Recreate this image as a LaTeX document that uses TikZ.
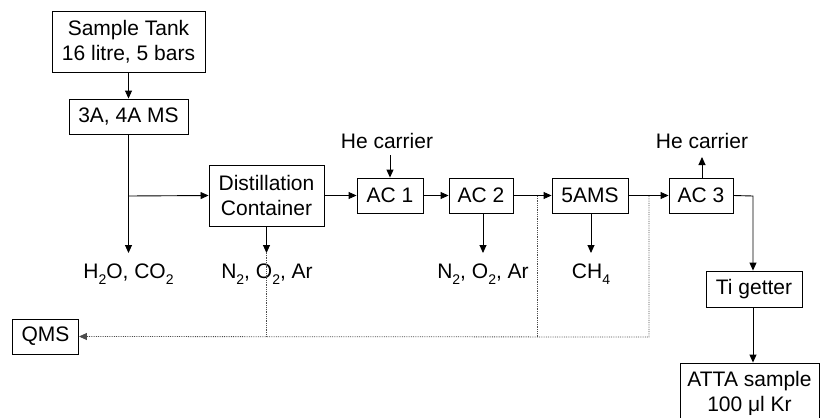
\documentclass[tikz,border=0pt]{standalone}
\usepackage{fontspec}
\setmainfont{Liberation Sans}
\usetikzlibrary{arrows.meta}
\newcommand{\sbs}[1]{\raisebox{-0.28em}{\fontsize{14}{14}\selectfont #1}}
\begin{document}
\begin{tikzpicture}[x=1pt,y=-1pt,
  every node/.style={font=\fontsize{21}{24.5}\selectfont},
  box/.style={draw, line width=0.9pt, inner sep=0pt, align=center},
  lbl/.style={inner sep=0pt, align=center},
  arr/.style={line width=0.9pt, -{Triangle[length=8pt,width=7pt]}},
  ln/.style={line width=0.9pt},
  dots/.style={line width=0.8pt, densely dotted, black!70},
  darr/.style={dots, -{Triangle[length=8pt,width=7pt]}}]
\useasboundingbox (0,0) rectangle (823,418);
% boxes
\node[box, minimum width=153pt, minimum height=61pt] (st) at (128.5,41.5) {Sample Tank\\16 litre, 5 bars};
\node[box, minimum width=119pt, minimum height=35pt] (ms) at (128.5,116.5) {3A, 4A MS};
\node[box, minimum width=115pt, minimum height=61pt] (dc) at (266.5,195.5) {Distillation\\Container};
\node[box, minimum width=66pt, minimum height=35pt] (ac1) at (390,195.5) {AC 1};
\node[box, minimum width=64pt, minimum height=35pt] (ac2) at (481,195.5) {AC 2};
\node[box, minimum width=76pt, minimum height=35pt] (fa) at (590,195.5) {5AMS};
\node[box, minimum width=64pt, minimum height=35pt] (ac3) at (701,195.5) {AC 3};
\node[box, minimum width=96pt, minimum height=36pt] (tig) at (754,289) {Ti getter};
\node[box, minimum width=139pt, minimum height=61pt] (atta) at (749.5,393.5) {ATTA sample\\100 μl Kr};
\node[box, minimum width=66pt, minimum height=35pt] (qms) at (45.5,336.5) {QMS};
% labels
\node[lbl] (lh2o) at (128.5,274) {H\sbs{2}O, CO\sbs{2}};
\node[lbl] (ln1) at (267,274) {N\sbs{2}, O\sbs{2}, Ar};
\node[lbl] (ln2) at (483,274) {N\sbs{2}, O\sbs{2}, Ar};
\node[lbl] (lch) at (591,274) {CH\sbs{4}};
\node[lbl] (he1) at (387,141) {He carrier};
\node[lbl] (he2) at (702,141) {He carrier};
% coordinates
\coordinate (t1) at (128.5,253);
\coordinate (br) at (128.5,196);
\coordinate (t2) at (266.5,253);
\coordinate (t3) at (483,253);
\coordinate (t4) at (591,253);
\coordinate (hc1) at (390,155);
\coordinate (hc2) at (702,157);
\coordinate (d1) at (537,196);
\coordinate (d2) at (649,196);
\coordinate (q1) at (266.5,337);
\coordinate (q2) at (537,337);
\coordinate (q3) at (649,337);
\coordinate (rt) at (753,196);
% solid connectors
\draw[arr] (st) -- (ms);
\draw[arr] (ms.south) -- (t1);
\draw[arr] (br) -- (dc.west);
\draw[arr] (dc.south) -- (t2);
\draw[arr] (dc.east) -- (ac1.west);
\draw[arr] (hc1) -- (ac1.north);
\draw[arr] (ac1.east) -- (ac2.west);
\draw[arr] (ac2.south -| t3) -- (t3);
\draw[arr] (ac2.east) -- (fa.west);
\draw[arr] (fa.south -| t4) -- (t4);
\draw[arr] (fa.east) -- (ac3.west);
\draw[arr] (ac3.north -| hc2) -- (hc2);
\draw[arr] (ac3.east) -- (rt) -- (rt |- tig.north);
\draw[arr] (tig.south -| rt) -- (rt |- atta.north);
% dotted
\draw[dots] (t2) -- (q1);
\draw[dots] (d1) -- (q2);
\draw[darr] (d2) -- (q3) -- (qms.east);
\end{tikzpicture}
\end{document}
